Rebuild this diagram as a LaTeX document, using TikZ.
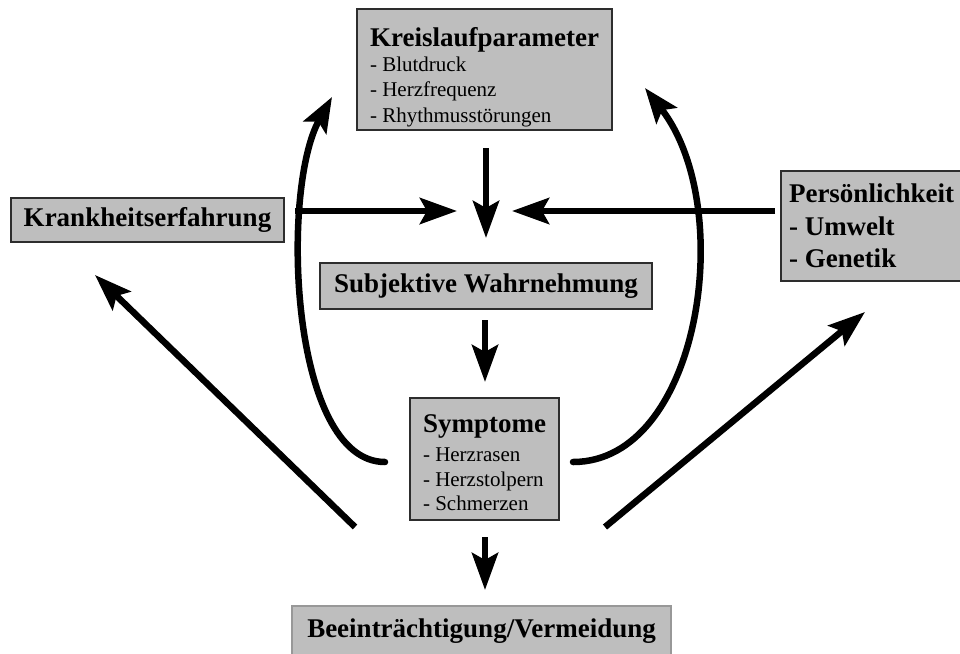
\documentclass[tikz,border=0pt]{standalone}
\usepackage{fontspec}
\setmainfont{Liberation Serif}
\usetikzlibrary{arrows.meta}
\definecolor{boxgray}{RGB}{190,190,190}
\definecolor{boxline}{RGB}{45,45,45}
\tikzset{
  box/.style={draw=boxline, line width=1.5pt, fill=boxgray, rectangle, inner sep=0pt, align=left,
    font=\fontsize{21}{25}\selectfont},
  ttl/.style={font=\bfseries\fontsize{27}{31}\selectfont},
  arr/.style={line width=6.5pt, -{Stealth[length=37pt,width=26pt,inset=7pt]}},
  carr/.style={line width=6.5pt, line cap=round, -{Stealth[length=35pt,width=26pt,inset=7pt]}}
}
\begin{document}
\begin{tikzpicture}[x=1pt,y=-1pt]
\clip (0,0) rectangle (960,653);
\fill[white] (0,0) rectangle (960,653);

% boxes
\node[box, minimum width=255pt, minimum height=121pt] (kreis) at (484.5,69.5)
  {\rule{0pt}{34pt}\bfseries\fontsize{27}{31}\selectfont Kreislaufparameter\\[0pt]
   - Blutdruck\\[0.5pt] - Herzfrequenz\\[0.5pt] - Rhythmusstörungen};
\node[box, ttl, minimum width=273pt, minimum height=44pt] (krank) at (147.5,220) {Krankheitserfahrung};
\node[box, ttl, minimum width=181pt, minimum height=110pt] (pers) at (871.5,226)
  {Persönlichkeit\\[1.5pt] - Umwelt\\[1.5pt] - Genetik};
\node[box, ttl, minimum width=332pt, minimum height=46pt] (subj) at (486,286) {Subjektive Wahrnehmung};
\node[box, minimum width=149pt, minimum height=122pt] (sympt) at (484.5,459)
  {\rule{0pt}{26pt}\bfseries\fontsize{27}{31}\selectfont Symptome\\[4pt]
   - Herzrasen\\[-0.5pt] - Herzstolpern\\[-0.5pt] - Schmerzen};
\node[box, ttl, draw=boxgray!80!black, minimum width=379pt, minimum height=50pt] (beein) at (481.5,631) {Beeinträchtigung/Vermeidung};

% connector end points
\coordinate (kA) at (486,148);
\coordinate (kB) at (486,238);
\coordinate (lA) at (295,211);
\coordinate (lB) at (457,211);
\coordinate (rA) at (775,211);
\coordinate (rB) at (512,211);
\coordinate (sA) at (485,320);
\coordinate (sB) at (485,382);
\coordinate (yA) at (485,537);
\coordinate (yB) at (485,590);
\coordinate (dlA) at (355,527);
\coordinate (dlB) at (95,275);
\coordinate (drA) at (605,527);
\coordinate (drB) at (865,312);
\coordinate (clA) at (385,462);
\coordinate (clB) at (332,97);
\coordinate (crA) at (573,462);
\coordinate (crB) at (645,88);

% arrows
\draw[arr] (kA) -- (kB);
\draw[arr] (lA) -- (lB);
\draw[arr] (rA) -- (rB);
\draw[arr] (sA) -- (sB);
\draw[arr] (yA) -- (yB);
\draw[arr] (dlA) -- (dlB);
\draw[arr] (drA) -- (drB);
\draw[carr] (clA) .. controls (290,462) and (280,190) .. (clB);
\draw[carr] (crA) .. controls (700,462) and (738,207) .. (crB);
\end{tikzpicture}
\end{document}
